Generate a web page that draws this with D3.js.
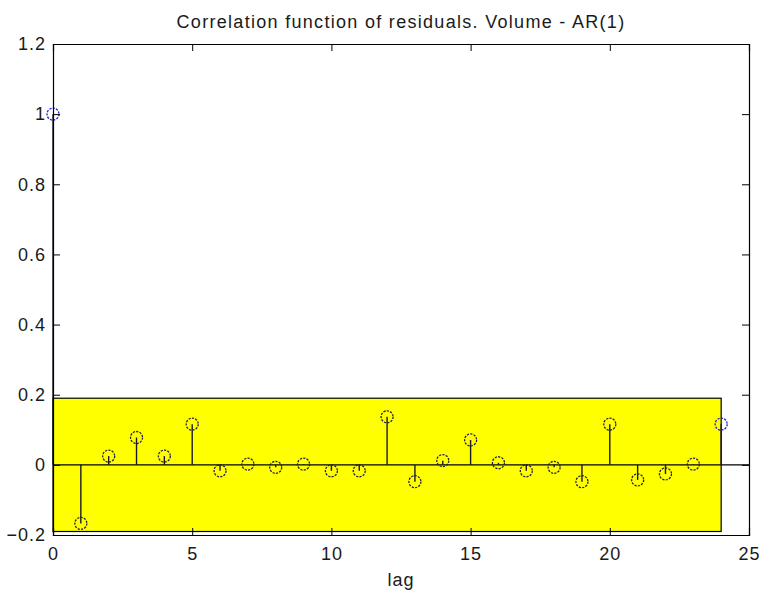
<!DOCTYPE html>
<html>
<head>
<meta charset="utf-8">
<script src="https://cdn.jsdelivr.net/npm/d3@7"></script>
<style>
  body { margin: 0; background: #fff; }
  svg text { font-family: "Liberation Sans", Arial, sans-serif; fill: #1a1a1a; }
  .axis path, .axis line { stroke: #000; }
</style>
</head>
<body>
<svg id="chart" width="763" height="596"></svg>
<script>
var titleText = "Correlation function of residuals. Volume - AR(1)";
var xLabel = "lag";

// autocorrelation of residuals by lag
var lags = [0, 1, 2, 3, 4, 5, 6, 7, 8, 9, 10, 11, 12, 13, 14, 15, 16, 17, 18, 19, 20, 21, 22, 23, 24];
var acf = [1.0, -0.167, 0.025, 0.078, 0.025, 0.116, -0.017, 0.002, -0.007, 0.002, -0.017, -0.017,
           0.137, -0.048, 0.012, 0.071, 0.006, -0.017, -0.007, -0.048, 0.116, -0.043, -0.026, 0.002, 0.116];

// confidence band
var bandLag = [0, 24];
var bandBound = [-0.19, 0.19];

var xTicks = [0, 5, 10, 15, 20, 25];
var yTicks = [-0.2, 0, 0.2, 0.4, 0.6, 0.8, 1, 1.2];

var margin = {top: 44, right: 14, bottom: 61, left: 53},
    width = 749 - margin.left,
    height = 535 - margin.top;

var x = d3.scaleLinear().domain([0, 25]).range([0, width]);
var y = d3.scaleLinear().domain([-0.2, 1.2]).range([height, 0]);

var svg = d3.select("#chart")
  .append("g")
  .attr("transform", "translate(" + margin.left + "," + margin.top + ")");

svg.append("rect")
  .attr("width", width)
  .attr("height", height)
  .style("fill", "#fff");

// yellow band
svg.append("rect")
  .attr("x", x(bandLag[0]))
  .attr("y", y(bandBound[1]))
  .attr("width", x(bandLag[1]) - x(bandLag[0]))
  .attr("height", y(bandBound[0]) - y(bandBound[1]))
  .style("fill", "#ffff00")
  .style("stroke", "#000")
  .style("stroke-width", 1.2);

// baseline
svg.append("line")
  .attr("x1", x(0)).attr("x2", x(25))
  .attr("y1", y(0)).attr("y2", y(0))
  .style("stroke", "#000")
  .style("stroke-width", 1.2);

var pts = lags.map(function(d, i) { return {lag: d, r: acf[i]}; });

svg.selectAll(".stem")
  .data(pts)
  .enter().append("line")
  .attr("class", "stem")
  .attr("x1", function(d) { return x(d.lag); })
  .attr("x2", function(d) { return x(d.lag); })
  .attr("y1", y(0))
  .attr("y2", function(d) { return y(d.r); })
  .style("stroke", "#1a1a2a")
  .style("stroke-width", 1.4);

svg.selectAll(".mark")
  .data(pts)
  .enter().append("circle")
  .attr("class", "mark")
  .attr("cx", function(d) { return x(d.lag); })
  .attr("cy", function(d) { return y(d.r); })
  .attr("r", 6)
  .style("fill", "none")
  .style("stroke", function(d) { return (d.lag > bandLag[0] && d.lag < bandLag[1]) ? "#222240" : "#1c1ccc"; })
  .style("stroke-width", 1.3)
  .style("stroke-dasharray", "2.2,1.2");

// axes, ticks inward like matlab
var xAxis = d3.axisBottom(x).tickValues(xTicks).tickSize(-7).tickPadding(12).tickFormat(d3.format("d"));
var yAxis = d3.axisLeft(y).tickValues(yTicks).tickSize(-7).tickPadding(7).tickFormat(function(d) { return d3.format("")(+d.toFixed(1)); });

svg.append("g")
  .attr("class", "x axis")
  .attr("transform", "translate(0," + height + ")")
  .call(xAxis)
  .selectAll("text").style("font-size", "18px").style("letter-spacing", "1px");

svg.append("g")
  .attr("class", "x axis")
  .call(d3.axisTop(x).tickValues(xTicks).tickSize(-7).tickFormat(""));

svg.append("g")
  .attr("class", "y axis")
  .call(yAxis)
  .selectAll("text").style("font-size", "18px").style("letter-spacing", "1px");

svg.append("g")
  .attr("class", "y axis")
  .attr("transform", "translate(" + width + ",0)")
  .call(d3.axisRight(y).tickValues(yTicks).tickSize(-7).tickFormat(""));

svg.selectAll(".axis path").style("stroke-width", 1.2);

svg.append("text")
  .attr("x", x(12.5))
  .attr("y", -16)
  .style("text-anchor", "middle")
  .style("font-size", "18px")
  .style("letter-spacing", "1.3px")
  .text(titleText);

svg.append("text")
  .attr("x", x(12.5))
  .attr("y", height + 51)
  .style("text-anchor", "middle")
  .style("font-size", "18px")
  .style("letter-spacing", "1px")
  .text(xLabel);
</script>
</body>
</html>
